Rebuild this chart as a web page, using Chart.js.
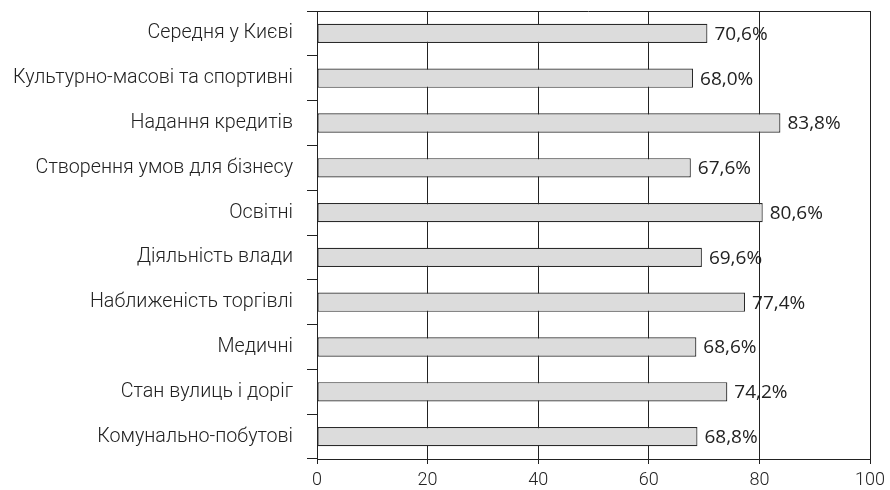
<!DOCTYPE html>
<html>
<head>
<meta charset="utf-8">
<script src="https://cdn.jsdelivr.net/npm/chart.js@4/dist/chart.umd.min.js"></script>
<style>
  html, body { margin: 0; padding: 0; background: #fff; }
  #wrap { width: 890px; height: 490px; }
</style>
</head>
<body>
<div id="wrap"><canvas id="servicesChart"></canvas></div>
<script>
const categories = [
  'Середня у Києві',
  'Культурно-масові та спортивні',
  'Надання кредитів',
  'Створення умов для бізнесу',
  'Освітні',
  'Діяльність влади',
  'Наближеність торгівлі',
  'Медичні',
  'Стан вулиць і доріг',
  'Комунально-побутові'
];
const shares = [70.6, 68.0, 83.8, 67.6, 80.6, 69.6, 77.4, 68.6, 74.2, 68.8];
const xTicks = [0, 20, 40, 60, 80, 100];

// value labels after each bar + top border of the plot
const valueLabels = {
  id: 'valueLabels',
  afterDatasetsDraw(chart) {
    const c = chart.ctx;
    const area = chart.chartArea;
    c.save();
    c.strokeStyle = '#222';
    c.lineWidth = 1;
    c.beginPath();
    c.moveTo(area.left - 10, area.top + 0.5);
    c.lineTo(area.right, area.top + 0.5);
    c.stroke();

    c.font = '19px "Open Sans"';
    c.fillStyle = '#222';
    c.textBaseline = 'middle';
    chart.getDatasetMeta(0).data.forEach((bar, i) => {
      c.fillText(shares[i].toFixed(1).replace('.', ',') + '%', bar.x + 7, bar.y + 1);
    });
    c.restore();
  }
};

new Chart(document.getElementById('servicesChart').getContext('2d'), {
  type: 'bar',
  data: {
    labels: categories,
    datasets: [{
      data: shares,
      backgroundColor: '#dcdcdc',
      borderColor: '#2a2a2a',
      borderWidth: 1.2,
      borderSkipped: false,
      barPercentage: 0.43,
      categoryPercentage: 1
    }]
  },
  options: {
    indexAxis: 'y',
    responsive: true,
    maintainAspectRatio: false,
    animation: false,
    layout: { padding: { top: 11, right: 20, bottom: 0, left: 0 } },
    plugins: { legend: { display: false }, tooltip: { enabled: false } },
    scales: {
      x: {
        min: 0,
        max: 100,
        afterBuildTicks: (scale) => { scale.ticks = xTicks.map(v => ({ value: v })); },
        border: { display: true, color: '#222', width: 1 },
        grid: { color: '#222', lineWidth: 1, tickLength: 5, drawOnChartArea: true },
        ticks: { color: '#222', font: { family: 'Roboto', size: 18, weight: '300' }, padding: 6, maxRotation: 0 },
        afterFit: (scale) => { scale.height = 31; scale.paddingRight = 0; scale.paddingLeft = 0; }
      },
      y: {
        border: { display: true, color: '#222', width: 1 },
        grid: { offset: true, drawOnChartArea: false, color: '#222', tickLength: 10 },
        ticks: { color: '#222', font: { family: 'Roboto', size: 19.7, weight: '300' }, padding: 14 },
        afterFit: (scale) => { scale.width = 317; scale.paddingTop = 0; scale.paddingBottom = 0; }
      }
    }
  },
  plugins: [valueLabels]
});
</script>
</body>
</html>
